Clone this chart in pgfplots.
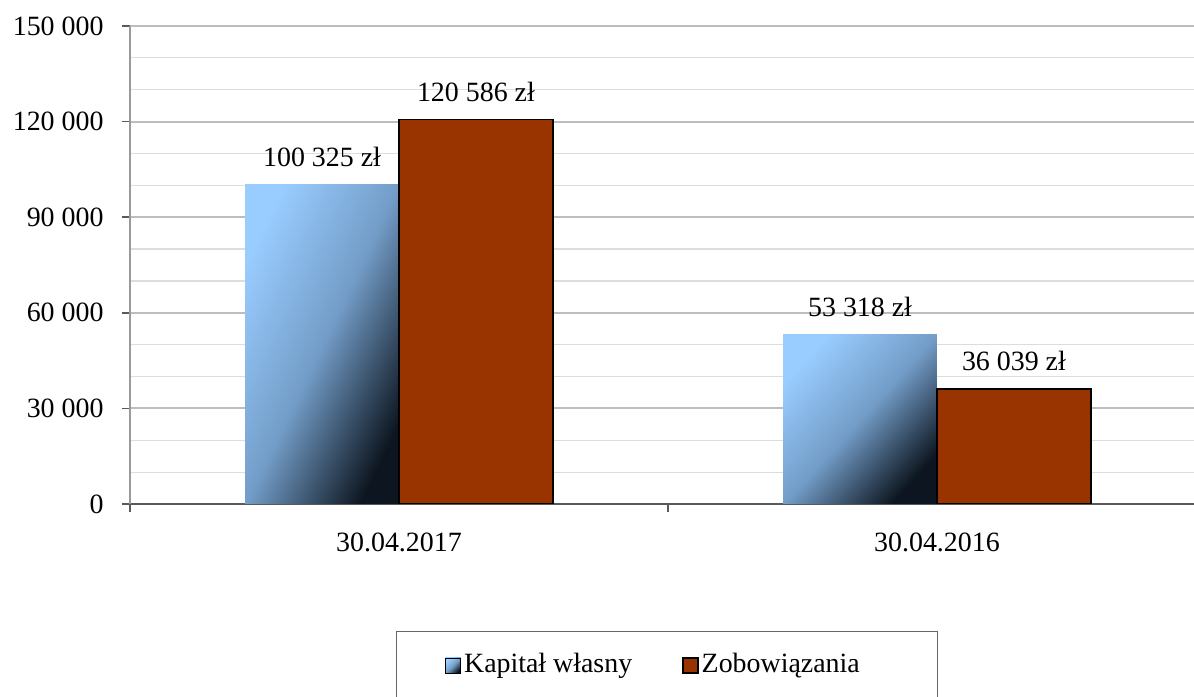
\documentclass[border=0pt]{standalone}
\usepackage{pgfplots}
\pgfplotsset{compat=1.18}
\usepackage{fontspec}
\setmainfont{Liberation Serif}
\definecolor{gridmaj}{HTML}{BDBDBD}
\definecolor{gridmin}{HTML}{DDDDDD}
\definecolor{axisgray}{HTML}{9A9A9A}
\definecolor{axisdark}{HTML}{5A5A5A}
\definecolor{zobred}{HTML}{993300}
\definecolor{kaplight}{HTML}{99CCFF}
\definecolor{kapmid}{HTML}{739DC8}
\definecolor{kapdark}{HTML}{0D1620}
\pgfplotsset{
  boxlegend/.style={legend image code/.code={\draw[##1] (0bp,-9bp) rectangle (15bp,6bp);}},
  kaplegend/.style={legend image code/.code={\draw[##1, shading angle=45] (0bp,-9bp) rectangle (15bp,6bp);}},
}
\begin{document}
\begin{tikzpicture}
\useasboundingbox (0,0) rectangle (1194bp,697bp);
\begin{axis}[
  at={(130bp,193bp)}, anchor=south west,
  scale only axis, width=1076bp, height=478bp,
  xmin=0, xmax=2, ymin=0, ymax=150000,
  ybar=0pt, bar width=0.286,
  axis x line*=bottom, axis y line*=left,
  x axis line style={draw=axisdark, line width=1.5bp},
  y axis line style={draw=axisgray, line width=1.5bp},
  scaled y ticks=false,
  ytick={0,30000,...,150000},
  minor ytick={10000,20000,40000,50000,70000,80000,100000,110000,130000,140000},
  ymajorgrids, yminorgrids,
  major grid style={draw=gridmaj, line width=2bp},
  minor grid style={draw=gridmin, line width=1.2bp},
  tick align=outside, major tick length=8bp, minor tick length=0pt,
  tick style={draw=axisdark, line width=1.5bp},
  yticklabel style={xshift=-15bp},
  xtick={0,1,2}, xticklabels={},
  extra x ticks={0.5,1.5}, extra x tick labels={30.04.2017,30.04.2016},
  extra x tick style={major tick length=0pt, xticklabel style={yshift=-25bp}},
  /pgf/number format/.cd, fixed, precision=0, 1000 sep={\ }, assume math mode=true,
  /pgfplots/.cd,
  tick label style={font=\fontsize{28}{34}\selectfont},
  nodes near coords={\pgfmathprintnumber{\pgfplotspointmeta}~zł},
  nodes near coords style={font=\fontsize{28}{34}\selectfont, anchor=south, yshift=14bp, text=black},
  legend columns=2,
  legend style={at={(rel axis cs:0.4991,-0.3347)}, anchor=center,
    draw=black!60, line width=0.8bp, inner xsep=49bp, inner ysep=19.5bp,
    font=\fontsize{28}{34}\selectfont,
    nodes={inner sep=3bp},
    /tikz/every even column/.append style={column sep=47bp}},
  boxlegend,
]
\addplot[draw=none, top color=kaplight, bottom color=kapdark, middle color=kapmid, shading angle=64.3, bar shift=-0.143, kaplegend]
  coordinates {(0.5,100325)};
\addplot[draw=none, top color=kaplight, bottom color=kapdark, middle color=kapmid, shading angle=47.8, bar shift=-0.143, forget plot]
  coordinates {(1.5,53318)};
\addplot[draw=black, line width=1.5bp, fill=zobred, bar shift=0.143]
  coordinates {(0.5,120586) (1.5,36039)};
\legend{Kapitał własny, Zobowiązania\hspace*{26bp}}
\end{axis}
\end{tikzpicture}
\end{document}
